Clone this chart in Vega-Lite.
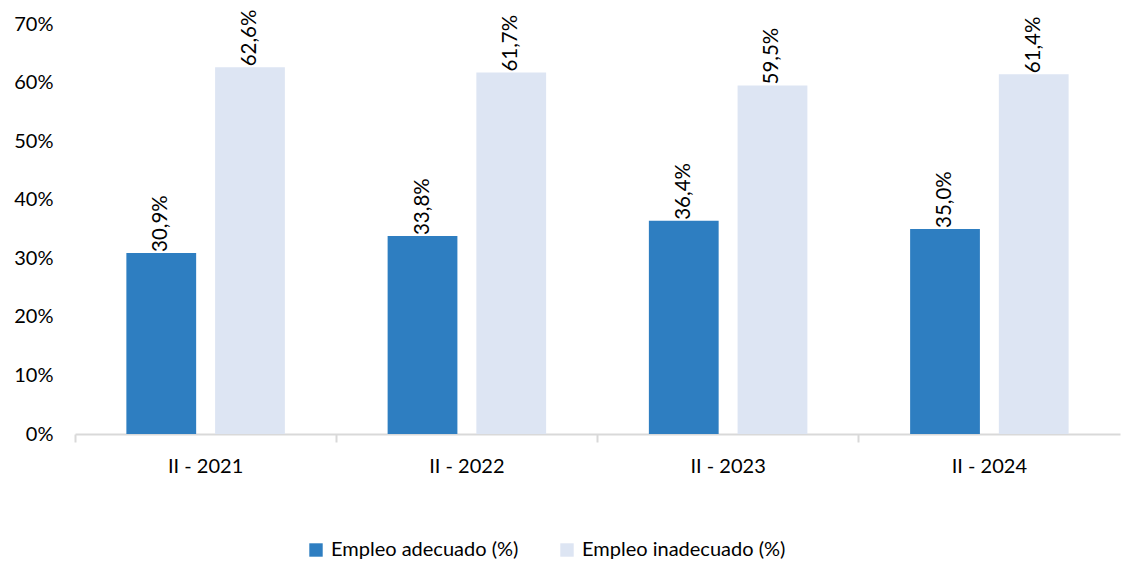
{
  "$schema": "https://vega.github.io/schema/vega-lite/v6.json",
  "width": 1045,
  "height": 410,
  "autosize": {"type": "none"},
  "padding": {"left": 75, "top": 24, "right": 1, "bottom": 129},
  "background": "white",
  "config": {
    "view": {"stroke": null},
    "font": "Lato",
    "locale": {"number": {"decimal": ",", "thousands": ".", "grouping": [3], "currency": ["", " €"]}}
  },
  "data": {
    "values": [
      {"periodo": "II - 2021", "serie": "Empleo adecuado (%)", "valor": 0.309},
      {"periodo": "II - 2021", "serie": "Empleo inadecuado (%)", "valor": 0.626},
      {"periodo": "II - 2022", "serie": "Empleo adecuado (%)", "valor": 0.338},
      {"periodo": "II - 2022", "serie": "Empleo inadecuado (%)", "valor": 0.617},
      {"periodo": "II - 2023", "serie": "Empleo adecuado (%)", "valor": 0.364},
      {"periodo": "II - 2023", "serie": "Empleo inadecuado (%)", "valor": 0.595},
      {"periodo": "II - 2024", "serie": "Empleo adecuado (%)", "valor": 0.350},
      {"periodo": "II - 2024", "serie": "Empleo inadecuado (%)", "valor": 0.614}
    ]
  },
  "encoding": {
    "x": {
      "field": "periodo", "type": "nominal", "title": null,
      "scale": {"paddingInner": 0, "paddingOuter": 0},
      "axis": {
        "labelAngle": 0, "labelFontSize": 20, "labelColor": "#000000",
        "domainColor": "#D9D9D9", "domainWidth": 2, "tickColor": "#D9D9D9", "tickWidth": 2, "tickSize": 8,
        "bandPosition": 0, "labelPadding": 14
      }
    },
    "xOffset": {
      "field": "serie", "type": "nominal",
      "scale": {"paddingInner": 0.2135, "paddingOuter": 0.579}
    },
    "y": {
      "field": "valor", "type": "quantitative", "title": null,
      "scale": {"domain": [0, 0.7], "nice": false},
      "axis": {
        "format": ".0%", "values": [0, 0.1, 0.2, 0.3, 0.4, 0.5, 0.6, 0.7],
        "labelOverlap": false, "labelBound": false, "labelFlush": false,
        "grid": false, "domain": false, "ticks": false,
        "labelFontSize": 20, "labelColor": "#000000", "labelPadding": 22
      }
    }
  },
  "layer": [
    {
      "mark": {"type": "bar"},
      "encoding": {
        "color": {
          "field": "serie", "type": "nominal", "title": null,
          "scale": {"domain": ["Empleo adecuado (%)", "Empleo inadecuado (%)"], "range": ["#2E7EC1", "#DDE5F3"]},
          "legend": {
            "orient": "none", "direction": "horizontal", "legendX": 231, "legendY": 516,
            "symbolType": "square", "symbolSize": 180, "symbolStrokeWidth": 0,
            "labelFontSize": 20, "labelColor": "#000000", "labelLimit": 0, "columnPadding": 38, "labelOffset": 5
          }
        }
      }
    },
    {
      "mark": {"type": "text", "angle": 270, "align": "left", "baseline": "middle", "dx": 1, "fontSize": 20.5, "color": "#000000"},
      "encoding": {
        "text": {"field": "valor", "type": "quantitative", "format": ".1%"}
      }
    }
  ]
}
